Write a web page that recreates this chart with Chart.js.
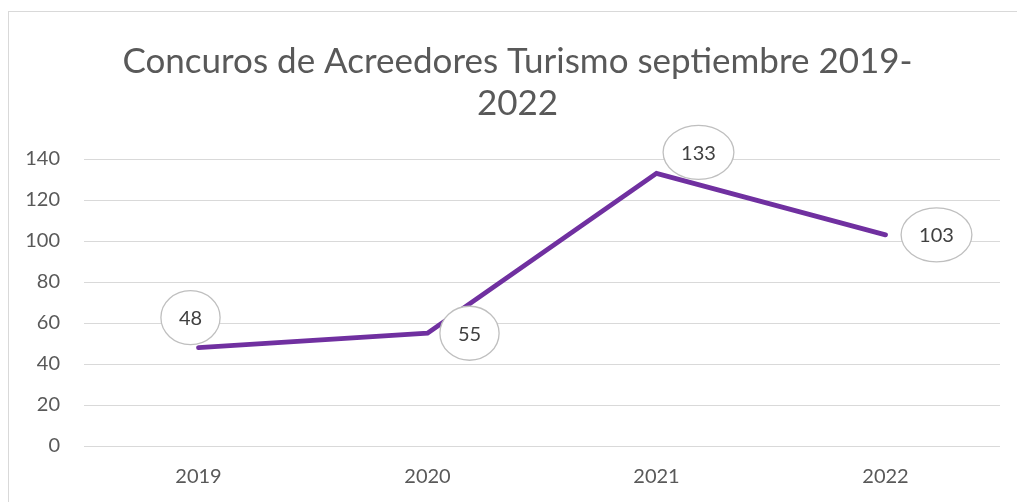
<!DOCTYPE html>
<html><head><meta charset="utf-8">
<script src="https://cdn.jsdelivr.net/npm/chart.js@4.4.1/dist/chart.umd.min.js"></script>
<style>
html,body{margin:0;padding:0;width:1017px;height:502px;overflow:hidden;background:#fff;}
#frame{position:absolute;left:8px;top:11px;width:1100px;height:600px;border:1px solid #d9d9d9;box-sizing:border-box;}
#wrap{position:absolute;left:8px;top:0;width:1019px;height:502px;}
</style></head>
<body>
<div id="frame"></div>
<div id="wrap"><canvas id="c" width="1019" height="502"></canvas></div>
<script>
const titleLines = ["Concuros de Acreedores Turismo septiembre 2019-", "2022"];
const categories = ["2019", "2020", "2021", "2022"];
const values = [48, 55, 133, 103];
const yTicks = [0, 20, 40, 60, 80, 100, 120, 140];

const FONT = "Lato";
const labelOffsets = [[-8, -30], [42, 0], [42, -21], [51, 0]];

const bubblePlugin = {
  id: 'bubbles',
  afterDatasetsDraw(chart) {
    const ctx = chart.ctx;
    const meta = chart.getDatasetMeta(0);
    ctx.save();
    ctx.font = "20px " + FONT;
    meta.data.forEach((pt, i) => {
      const txt = String(values[i]);
      const cx = pt.x + labelOffsets[i][0];
      const cy = pt.y + labelOffsets[i][1];
      const tw = ctx.measureText(txt).width;
      const rx = Math.max(28, tw / 2 + 18);
      const ry = 27;
      ctx.beginPath();
      ctx.ellipse(cx, cy, rx, ry, 0, 0, Math.PI * 2);
      ctx.fillStyle = '#ffffff';
      ctx.fill();
      ctx.lineWidth = 1.3;
      ctx.strokeStyle = '#bfbfbf';
      ctx.stroke();
      ctx.fillStyle = '#404040';
      ctx.textAlign = 'center';
      ctx.textBaseline = 'middle';
      ctx.fillText(txt, cx, cy + 1);
    });
    ctx.restore();
  }
};

new Chart(document.getElementById('c'), {
  type: 'line',
  data: {
    labels: categories,
    datasets: [{
      data: values,
      borderColor: '#7030A0',
      borderWidth: 4.8,
      borderCapStyle: 'round',
      borderJoinStyle: 'miter',
      pointRadius: 0,
      tension: 0,
      fill: false
    }]
  },
  options: {
    responsive: false,
    animation: false,
    devicePixelRatio: 1,
    layout: { padding: { left: 0, right: 0, top: 41, bottom: 0 } },
    plugins: {
      legend: { display: false },
      tooltip: { enabled: false },
      title: {
        display: true,
        text: titleLines,
        color: '#595959',
        font: { family: FONT, size: 35, weight: 'normal', lineHeight: 1.2 },
        padding: { top: 0, bottom: 34 }
      }
    },
    scales: {
      x: {
        offset: true,
        grid: { display: false, drawTicks: false },
        border: { display: false },
        ticks: { color: '#595959', font: { family: FONT, size: 20 }, padding: 19 },
        afterFit(s) { s.height = 56; }
      },
      y: {
        min: 0, max: 140,
        afterBuildTicks(s) { s.ticks = yTicks.map(v => ({ value: v })); },
        grid: { color: '#d9d9d9', lineWidth: 1, drawTicks: false },
        border: { display: false },
        ticks: { color: '#595959', font: { family: FONT, size: 20 }, padding: 24 },
        afterFit(s) { s.width = 76; }
      },
      yR: {
        position: 'right',
        min: 0, max: 140,
        grid: { display: false, drawTicks: false },
        border: { display: false },
        ticks: { display: false },
        afterFit(s) { s.width = 27; }
      }
    }
  },
  plugins: [bubblePlugin]
});
</script>
</body></html>
